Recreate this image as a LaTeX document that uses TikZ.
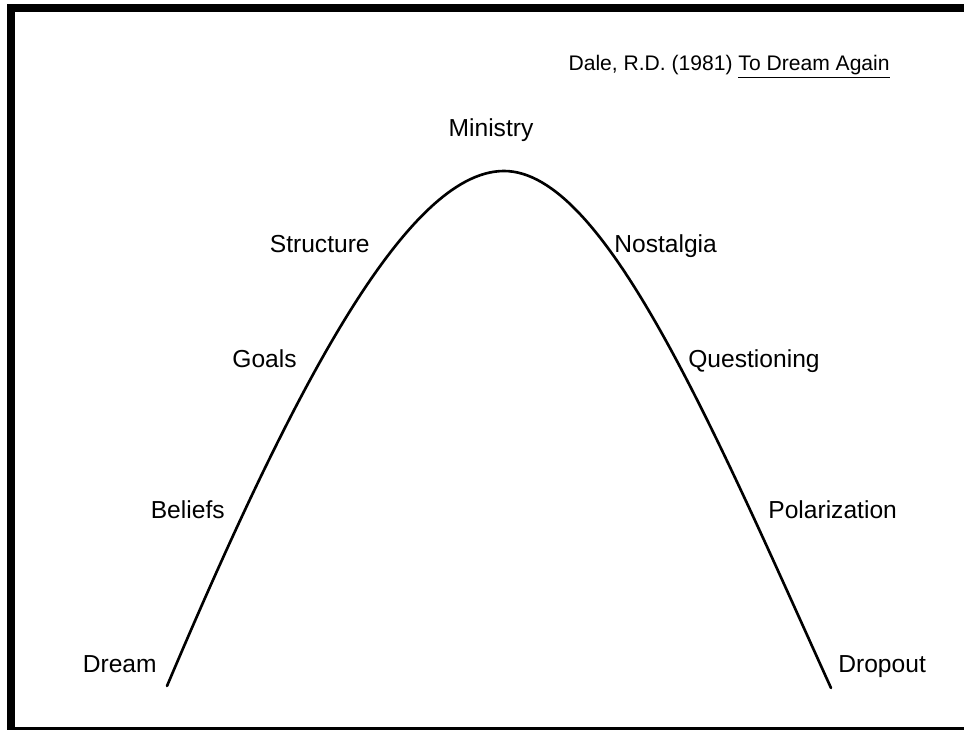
\documentclass[tikz,border=0pt]{standalone}
\usepackage{fontspec}
\setmainfont{Liberation Sans}
\usepackage{tikz}

\tikzset{
	stage/.style = {inner sep = 0pt, font = \fontsize{14}{17}\selectfont},
	lefttag/.style = {stage, anchor = base east},
	righttag/.style = {stage, anchor = base west}
}

\begin{document}
\begin{tikzpicture}[x = 0.02cm, y = -0.02cm]

		\useasboundingbox (0, 0) rectangle (964, 730);

		% frame
		\fill (7, 4) rectangle (15, 730);
		\fill (7, 4) rectangle (964, 12);
		\fill (15, 727) rectangle (964, 730);

		\node[stage, anchor = base east, font = \fontsize{12}{14}\selectfont] (cite) at (890, 71) {Dale, R.D. (1981) \underline{To Dream Again}};

		% the curve
		\coordinate (start) at (167, 686);
		\coordinate (top) at (504, 171);
		\coordinate (end) at (831, 688);
		\draw[line width = 1.5pt, line cap = round] (start) .. controls (287, 403) and (404, 171) .. (top)
			.. controls (604, 171) and (711, 423) .. (end);

		\node[stage, anchor = base] (ministry) at (491, 136) {Ministry};

		\node[lefttag] (structure) at (370, 252) {Structure};
		\node[lefttag] (goals) at (297, 367) {Goals};
		\node[lefttag] (beliefs) at (225, 518) {Beliefs};
		\node[lefttag] (dream) at (157, 672) {Dream};

		\node[righttag] (nostalgia) at (614, 252) {Nostalgia};
		\node[righttag] (questioning) at (688, 367) {Questioning};
		\node[righttag] (polarization) at (768, 518) {Polarization};
		\node[righttag] (dropout) at (838, 672) {Dropout};

	\end{tikzpicture}
\end{document}
